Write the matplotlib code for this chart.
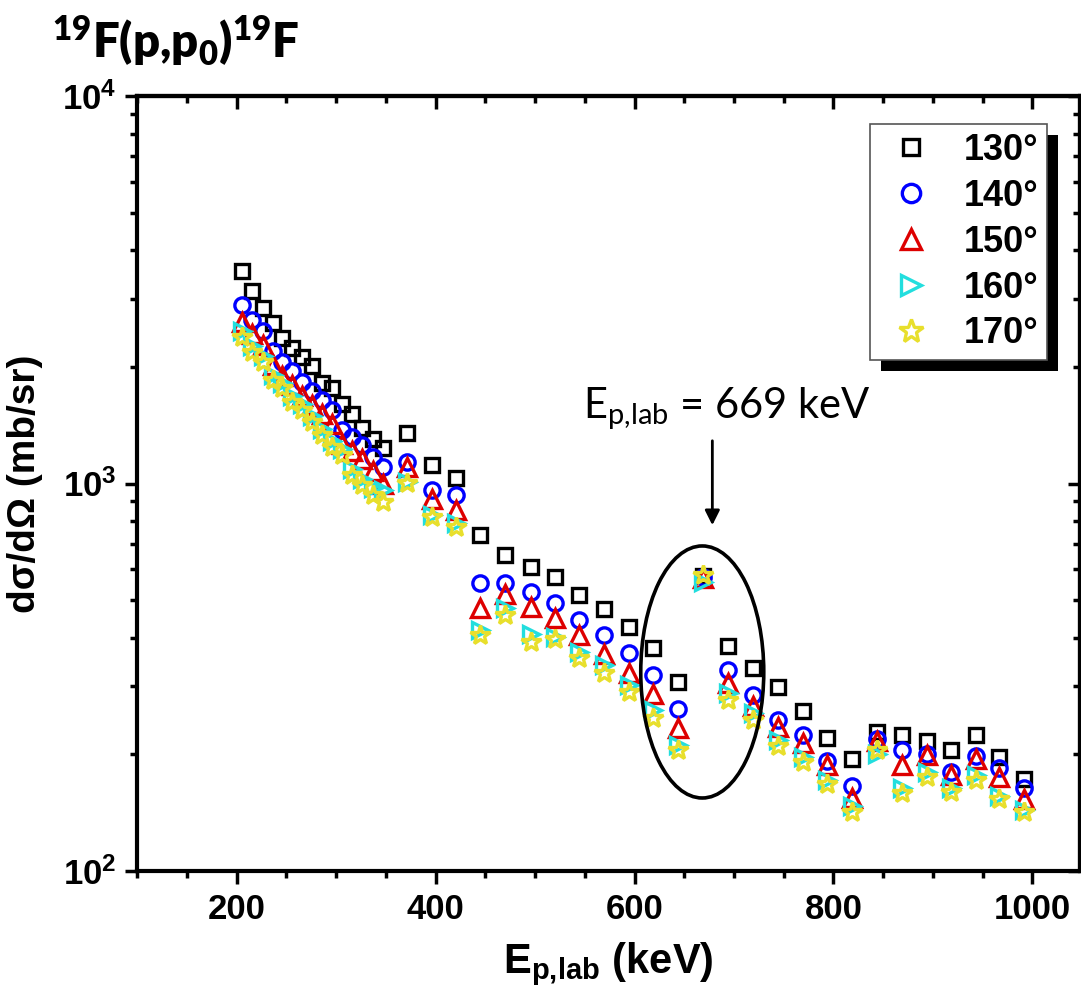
import numpy as np
import matplotlib
matplotlib.use("Agg")
import matplotlib.pyplot as plt
from matplotlib.patches import Ellipse, Rectangle
from matplotlib.ticker import MultipleLocator, LogLocator, NullFormatter

plt.rcParams["font.family"] = ["Liberation Sans", "DejaVu Sans"]
plt.rcParams["font.weight"] = "bold"

# beam energy (keV)
energy = [205, 215, 226, 236, 246, 256, 266, 276, 286, 296, 306, 316, 326, 337, 347,
          371, 396, 420, 445, 470, 496, 520, 544, 569, 594, 619, 644, 669, 694,
          719, 744, 769, 794, 819, 844, 869, 894, 918, 943, 967, 992]

# cross sections (mb/sr) per detection angle
xs_130 = [3535, 3139, 2831, 2590, 2370, 2233, 2124, 2013, 1814, 1761, 1601, 1509, 1393, 1300, 1233,
          1348, 1116, 1031, 736, 654, 609, 574, 516, 475, 426, 377, 308, 577, 381,
          335, 299, 258, 220, 195, 229, 224, 217, 205, 225, 197, 173]
xs_140 = [2887, 2642, 2474, 2198, 2055, 1951, 1832, 1733, 1643, 1548, 1374, 1321, 1257, 1172, 1105,
          1138, 962, 934, 552, 555, 526, 493, 445, 406, 365, 320, 262, 575, 330,
          285, 246, 225, 192, 166, 219, 205, 200, 180, 198, 184, 164]
xs_150 = [2610, 2430, 2280, 2020, 1890, 1795, 1685, 1595, 1510, 1425, 1265, 1215, 1155, 1080, 1000,
          1100, 910, 855, 476, 520, 481, 449, 406, 364, 324, 287, 234, 570, 305,
          266, 235, 214, 188, 154, 216, 188, 199, 177, 195, 175, 153]
xs_160 = [2470, 2260, 2130, 1910, 1820, 1680, 1600, 1490, 1380, 1290, 1230, 1090, 1030, 975, 960,
          1010, 830, 790, 418, 477, 410, 402, 368, 340, 302, 260, 212, 558, 288,
          255, 218, 197, 172, 147, 201, 164, 180, 164, 177, 156, 144]
xs_170 = [2393, 2188, 2062, 1849, 1761, 1627, 1549, 1444, 1334, 1245, 1186, 1053, 991, 934, 898,
          1001, 820, 774, 406, 458, 391, 398, 354, 325, 289, 248, 205, 580, 276,
          246, 210, 191, 168, 142, 205, 159, 175, 160, 172, 153, 142]

labels = ["130°", "140°", "150°", "160°", "170°"]


def main():
    fig = plt.figure(figsize=(10.81, 10.06), dpi=100)
    ax = fig.add_axes([137.3 / 1081, 1 - 871 / 1006, (1080 - 137.3) / 1081, (871 - 96) / 1006])

    styles = [("s", "black", 9.5), ("o", "#0000ff", 11), ("^", "#dd0000", 12.5),
              (">", "#22dede", 12), ("*", "#e8df2c", 15)]
    for ys, lab, (m, c, ms) in zip([xs_130, xs_140, xs_150, xs_160, xs_170], labels, styles):
        ax.plot(energy, ys, linestyle="none", marker=m, markersize=ms,
                markerfacecolor="none", markeredgecolor=c, markeredgewidth=2.4, label=lab)

    ax.set_yscale("log")
    ax.set_xlim(100, 1048)
    ax.set_ylim(100, 10000)
    ax.xaxis.set_major_locator(MultipleLocator(200))
    ax.xaxis.set_minor_locator(MultipleLocator(50))
    ax.yaxis.set_major_locator(LogLocator(base=10, numticks=10))
    ax.yaxis.set_minor_locator(LogLocator(base=10, subs=np.arange(2, 10), numticks=10))
    ax.yaxis.set_minor_formatter(NullFormatter())

    for sp in ax.spines.values():
        sp.set_linewidth(3)
    ax.tick_params(which="both", width=2.5, labelsize=25, pad=6)
    ax.tick_params(which="major", length=9)
    ax.tick_params(which="minor", length=5)
    ax.tick_params(axis="x", which="both", direction="out", top=False)
    ax.tick_params(axis="y", which="both", direction="out", right=False)
    ax.tick_params(axis="x", which="major", pad=7)
    # inward ticks on the mirrored axes
    ax2 = ax.secondary_xaxis("top")
    ax2.xaxis.set_major_locator(MultipleLocator(200))
    ax2.xaxis.set_minor_locator(MultipleLocator(50))
    ax2.tick_params(which="both", direction="in", width=2.5, labeltop=False)
    ax2.tick_params(which="major", length=9)
    ax2.tick_params(which="minor", length=5)
    ax2.spines["top"].set_linewidth(3)
    ay2 = ax.secondary_yaxis("right")
    ay2.set_yscale("log")
    ay2.yaxis.set_major_locator(LogLocator(base=10, numticks=10))
    ay2.yaxis.set_minor_locator(LogLocator(base=10, subs=np.arange(2, 10), numticks=10))
    ay2.tick_params(which="both", direction="in", width=2.5, labelright=False)
    ay2.tick_params(which="major", length=9)
    ay2.tick_params(which="minor", length=5)
    ay2.spines["right"].set_linewidth(3)

    ax.set_xlabel(r"$\mathdefault{E_{p{,}lab}}$ (keV)", fontsize=30, fontweight="bold", labelpad=10)
    ax.set_ylabel("dσ/dΩ (mb/sr)", fontsize=28, fontweight="bold", labelpad=14)

    leg = ax.legend(loc="upper right", bbox_to_anchor=(0.9655, 0.9639), borderaxespad=0,
                    fontsize=26, frameon=True, fancybox=False, framealpha=1, labelspacing=0.3,
                    borderpad=0.25, handlelength=1.8, handletextpad=0.55, markerscale=1.2)
    leg.get_frame().set_edgecolor("#555555")
    leg.get_frame().set_linewidth(1.2)
    leg.set_zorder(6)

    # circled resonance and arrow
    ax.add_patch(Ellipse((0.5993, 0.2568), 0.1305, 0.3252, transform=ax.transAxes,
                         fill=False, edgecolor="black", linewidth=2.6, zorder=5))
    ax.annotate("", xy=(0.61, 0.4426), xytext=(0.61, 0.5587), xycoords="axes fraction",
                arrowprops=dict(arrowstyle="-|>", color="black", lw=2, mutation_scale=22))
    ax.text(0.473, 0.5845, r"$\mathdefault{E_{p{,}lab}}$ = 669 keV", transform=ax.transAxes,
            fontsize=30, fontweight="normal", family=["Lato", "DejaVu Sans"], va="baseline")

    fig.text(52 / 1081, 1 - 57 / 1006, r"$\mathdefault{^{19}F(p{,}p_0)^{19}F}$", fontsize=34,
             fontweight="heavy", family=["Lato", "DejaVu Sans"], va="baseline")

    # legend drop shadow
    fig.canvas.draw()
    bb = leg.get_window_extent().transformed(ax.transAxes.inverted())
    dx = 11 / (1080 - 137.3)
    dy = 11 / (871 - 96)
    ax.add_patch(Rectangle((bb.x0 + dx, bb.y0 - dy), bb.width, bb.height, transform=ax.transAxes,
                           facecolor="black", edgecolor="none", zorder=5.5, clip_on=False))

    fig.savefig("out.png", dpi=100)


if __name__ == "__main__":
    main()
